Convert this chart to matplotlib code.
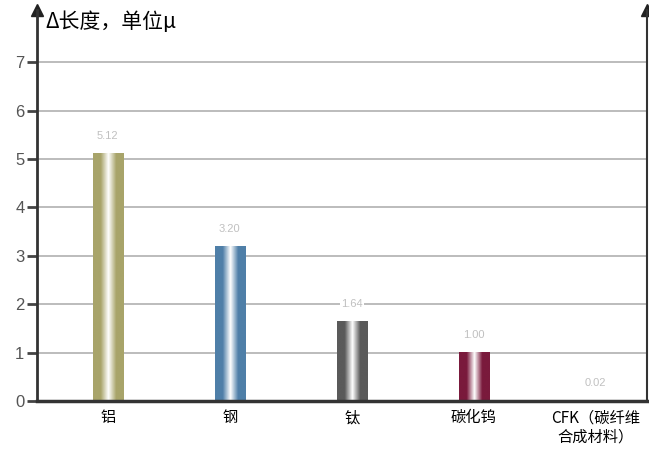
import numpy as np
import matplotlib.pyplot as plt
from matplotlib.colors import LinearSegmentedColormap

plt.rcParams['font.family'] = ['Noto Sans CJK SC', 'DejaVu Sans']

materials = ["铝", "钢", "钛", "碳化钨", "CFK（碳纤维\n合成材料）"]
values = [5.12, 3.20, 1.64, 1.00, 0.02]
value_labels = ["5.12", "3.20", "1.64", "1.00", "0.02"]
colors = ["#a8a46a", "#4f7fa8", "#5a5a5a", "#7a1a3c", "#333333"]

fig = plt.figure(figsize=(6.49, 4.54), dpi=100)
ax = fig.add_axes([0.057, 0.117, 0.94, 0.861])
ax.set_xlim(-0.58, 4.42)
ax.set_ylim(0, 8.08)

# grid
for y in range(1, 8):
    ax.axhline(y, color="#b0b0b0", lw=1.2, zorder=1)

# cylindrical bars
bw = 0.25
grad = np.linspace(0, 1, 256).reshape(1, -1)
for i, (v, c) in enumerate(zip(values, colors)):
    cmap = LinearSegmentedColormap.from_list(
        "b%d" % i, [(0, c), (0.25, c), (0.5, "#ffffff"), (0.75, c), (1, c)])
    ax.imshow(grad, cmap=cmap, aspect="auto",
              extent=(i - bw / 2, i + bw / 2, 0, v), zorder=2)
    ax.text(i, v + 0.25, value_labels[i], ha="center", va="bottom",
            fontsize=8, color="#c0c0c0", family="Liberation Sans", zorder=3,
            bbox=dict(facecolor="white", edgecolor="none", pad=1))

ax.set_xticks(range(len(materials)))
ax.set_xticklabels(materials, fontsize=11)
ax.tick_params(axis="x", length=0, pad=6)
ax.set_yticks(range(0, 8))
ax.tick_params(axis="y", length=7, width=2, color="#444444", labelsize=12,
               labelcolor="#555555", pad=2)
for lab in ax.get_yticklabels():
    lab.set_family("Liberation Sans")

ax.spines["top"].set_visible(False)
ax.spines["left"].set_linewidth(2)
ax.spines["left"].set_color("#333333")
ax.spines["right"].set_linewidth(1.5)
ax.spines["right"].set_color("#333333")
ax.spines["bottom"].set_linewidth(2.5)
ax.spines["bottom"].set_color("#333333")

# arrows on vertical axes
ax.plot(0, 1, "^", transform=ax.transAxes, color="#222222", ms=8, clip_on=False)
ax.plot(1, 1, "^", transform=ax.transAxes, color="#222222", ms=8, clip_on=False)

fig.text(0.07, 0.952, "Δ长度，单位μ", fontsize=15, va="center", ha="left")

fig.savefig("out.png", dpi=100)
